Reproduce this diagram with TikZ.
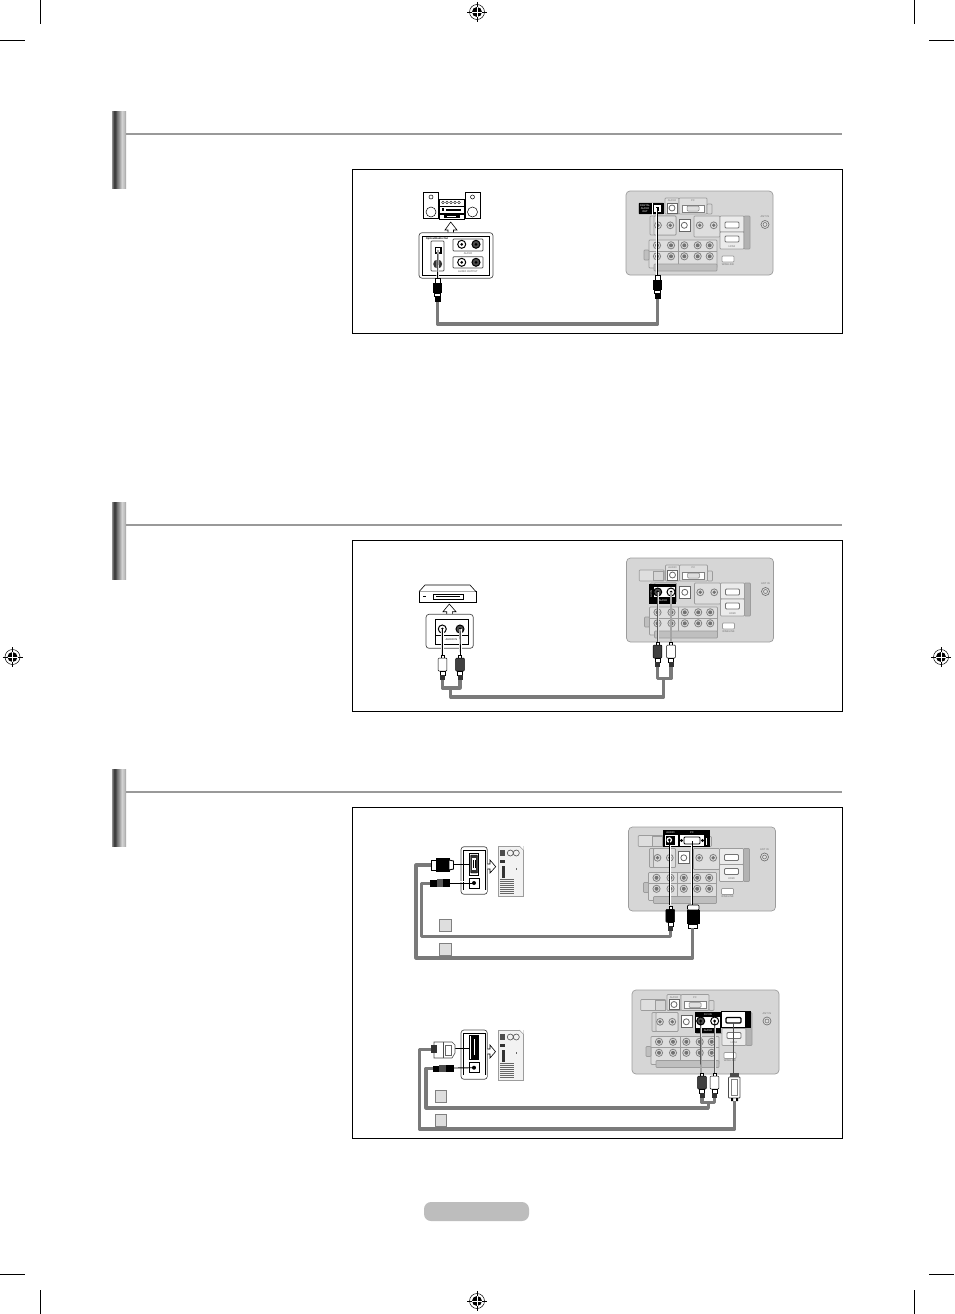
\documentclass[tikz,border=0pt]{standalone}
\usepackage{fontspec}
\setmainfont{Liberation Sans}
\definecolor{cablegray}{HTML}{7A7A7A}
\definecolor{panelgray}{HTML}{D6D6D6}
\definecolor{boxgray}{HTML}{DEDEDE}
\definecolor{linegray}{HTML}{9C9C9C}
\definecolor{rulegray}{HTML}{999999}
\definecolor{pillgray}{HTML}{BDBDBD}
\definecolor{barA}{HTML}{8C8C8C}
\definecolor{barB}{HTML}{404040}
\definecolor{barC}{HTML}{707070}
\definecolor{barF}{HTML}{A0A0A0}
\definecolor{barD}{HTML}{D4D4D4}
\definecolor{barG}{HTML}{C0C0C0}
\definecolor{barE}{HTML}{A0A0A0}
\pgfdeclarehorizontalshading{bargrad}{100bp}{color(0bp)=(barA);color(25bp)=(barA);color(32bp)=(barB);color(37bp)=(barB);color(43bp)=(barC);color(52bp)=(barF);color(60bp)=(barD);color(68bp)=(barG);color(75bp)=(barE);color(100bp)=(barE)}
\newcommand\tinyfont{\fontsize{2.6}{3}\selectfont}
\tikzset{
  every node/.style={outer sep=0pt},
  cable/.style={draw=cablegray,line width=3.2pt,line join=round},
  thinwire/.style={draw=black,line width=0.9pt},
  halo/.style={draw=white,line width=2.4pt},
  frame/.style={draw=black,line width=1pt,fill=white},
  rulel/.style={draw=rulegray,line width=2pt},
  crop/.style={draw=black,line width=0.8pt},
  port/.style={draw=linegray,fill=boxgray,line width=0.5pt},
  gbox/.style={draw=linegray,fill=boxgray,line width=0.7pt,rounded corners=0.8pt},
  glab/.style={inner sep=0pt,text=black!55,font=\tinyfont},
  wlab/.style={inner sep=0pt,text=white,font=\tinyfont},
  blab/.style={inner sep=0pt,text=black,font=\tinyfont},
  plate/.style={draw=black!70,fill=white,line width=0.7pt,rounded corners=3pt},
  outline/.style={draw=black,fill=white,line width=0.6pt},
  sq/.style={draw=gray,fill=boxgray,line width=0.6pt},
}
% registration mark
\newcommand\regmark[3]{%
  \begin{scope}[shift={(#1,#2)}]
    \node[name=#3,circle,draw=black,line width=0.5pt,minimum size=15pt,inner sep=0pt] at (0,0) {};
    \draw[crop,line width=0.6pt] (-10,0)--(10,0) (0,-10)--(0,10);
    \fill[black] (0,0) circle (5);
    \draw[white,line width=0.6pt] (-5,0)--(5,0) (0,-5)--(0,5);
  \end{scope}}
% section marker
\newcommand\sectionbar[1]{%
  \shade[shading=bargrad] (112,#1) rectangle (126,#1+77);
  \draw[rulel] (126,#1+22.5) -- (842,#1+22.5);}
% TV panel: x y, content dx dy
\newcommand\tvpanel[5]{%
  \node[name=#5,draw=linegray,fill=panelgray,rounded corners=4pt,line width=0.7pt,inner sep=0pt,minimum width=147pt,minimum height=84pt,anchor=north west] at (#1,#2) {};
  \begin{scope}[shift={(#1+#3,#2+#4)}]
    \draw[gbox] (12.7,12) rectangle (37.7,23);
    \draw[port,fill=panelgray] (27,13) rectangle (37,22.5);
    \draw[gbox] (39,7) rectangle (53,23);
    \draw[gbox] (53,7) rectangle (81,23);
    \draw[gbox,fill=panelgray] (81,13) rectangle (86,23);
    \node[glab] at (46,10) {AUDIO};
    \node[glab] at (67,10) {PC};
    \draw[port,fill=white,draw=black!60] (41,12) rectangle (51,22);
    \draw[black!60,line width=0.8pt] (46,17) circle (3);
    \draw[port,fill=white,draw=black!50] (56,14) rectangle (78,21);
    \draw[port,draw=black!50,rounded corners=1pt] (61,15) rectangle (73,20);
    \draw[gbox,fill=panelgray] (24,25) rectangle (50,44);
    \draw[gbox] (28,25) rectangle (50,44);
    \draw[port,fill=white,draw=black!60] (53,28) rectangle (64,40);
    \draw[black!60,line width=0.8pt] (58.3,34.3) circle (3);
    \draw[gbox] (68,25) rectangle (94,46);
    \draw[gbox,fill=boxgray!60!white] (94,25) rectangle (118,41);
    \draw[gbox,fill=boxgray!60!white] (94,41) rectangle (118,58);
    \draw[gbox,fill=gray!60] (118,25) rectangle (124,58);
    \draw[black!55,fill=white,line width=0.9pt,rounded corners=1pt] (99,31) rectangle (113,37);
    \draw[black!55,fill=white,line width=0.9pt,rounded corners=1pt] (99,45) rectangle (113,51);
    \node[glab] at (106,55.5) {HDMI};
    \draw[black!55,fill=boxgray,line width=0.7pt] (139,33.5) circle (4);
    \draw[black!55,line width=0.6pt] (139,33.5) circle (2);
    \node[glab] at (139,26) {ANT IN};
    \draw[gbox] (23,49) rectangle (91,77);
    \draw[linegray,line width=0.5pt] (52,49)--(52,73) (23,60)--(91,60);
    \draw[gbox,fill=gray!50] (18,59) rectangle (23,69);
    \draw[gbox,fill=gray!50] (28,73) rectangle (91,80);
    \draw[gbox,fill=white] (96,65) rectangle (108,71);
    \node[glab] at (102,73.5) {WISELINK};
    \foreach \cx in {32,44.3,73.7,87.7}{
      \draw[black!50,fill=boxgray,line width=0.8pt] (\cx,34.3) circle (3.4);
      \fill[black!55] (\cx,34.3) circle (1.9);}
    \foreach \cy in {54.3,65.3}{
      \foreach \cx in {31,45,58.3,71.7,83.7}{
        \draw[black!50,fill=boxgray,line width=0.8pt] (\cx,\cy) circle (3.6);
        \fill[black!55] (\cx,\cy) circle (2);}}
  \end{scope}}
% jack: black ring
\newcommand\jack[3]{\node[name=#3,circle,draw=black,fill=white,line width=1pt,minimum size=8pt,inner sep=0pt] at (#1,#2) {}; \fill[black] (#1,#2) circle (1.5);}
\newcommand\darkjack[3]{\node[name=#3,circle,draw=black,fill=black!70,line width=1pt,minimum size=8pt,inner sep=0pt] at (#1,#2) {}; \fill[black] (#1,#2) circle (1.5);}
% optical plug (vertical): centre x, top y, cable coordinate name
\newcommand\optplug[3]{%
  \draw[outline] (#1-2.5,#2) rectangle (#1+2.5,#2+5);
  \fill[black] (#1-4.5,#2+5) rectangle (#1+4.5,#2+15);
  \draw[outline,draw=black] (#1-3,#2+15) rectangle (#1+3,#2+18);
  \fill[black] (#1-3,#2+18) rectangle (#1+3,#2+24);
  \coordinate (#3) at (#1,#2+24);}
% RCA plug (vertical): centre x, top y, body colour, name
\newcommand\rcaplug[4]{%
  \draw[outline] (#1-1.5,#2-3) rectangle (#1+1.5,#2);
  \draw[draw=black,fill=#3,line width=0.5pt,rounded corners=1pt] (#1-4.4,#2) rectangle (#1+4.4,#2+13);
  \draw[draw=black,fill=white,line width=0.5pt] (#1-2.5,#2+13) rectangle (#1+2.5,#2+17);
  \fill[black!80] (#1-2.5,#2+17) rectangle (#1+2.5,#2+22);
  \coordinate (#4) at (#1,#2+22);}
% tower PC
\newcommand\tower[3]{%
  \begin{scope}[shift={(#1,#2)}]
    \node[name=#3,draw=linegray,fill=black!5,line width=0.5pt,inner sep=0pt,minimum width=25pt,minimum height=50pt,anchor=north west] at (0,0) {};
    \fill[white] (25.3,-0.3)--(21,-0.3)--(25.3,4)--cycle;
    \draw[linegray,line width=0.5pt] (21,0)--(25,4);
    \fill[black!70] (1.5,4) rectangle (7,10);
    \draw[black!70,line width=0.6pt] (12,7) circle (3) (18,7) circle (3);
    \fill[black!80] (2,14) rectangle (7,17);
    \fill[black!80] (4,20) rectangle (7,32);
    \draw[black!60,line width=0.4pt] (18,22)--(18,24);
    \foreach \vy in {33.5,35.5,...,47.5}{\draw[black!60,line width=0.7pt] (1.5,\vy)--(16,\vy);}
  \end{scope}}
% rear plate with PC port
\newcommand\pcplate[6]{%
  \node[name=#6,plate,minimum width=26.3pt,minimum height=#3 pt,inner sep=0pt,anchor=north west] at (461,#1) {};
  \draw[black,line width=0.8pt] (463.3,#1+3.5) rectangle (485,#1+#3-4);
  \fill[white] (461.5,#1+#3-4.2) rectangle (486.8,#1+#3-2);
  \draw[black,line width=0.8pt,fill=white] (469.5,#1+#4) rectangle (478.7,#1+#5);
}
\begin{document}
\begin{tikzpicture}[x=1pt,y=-1pt]
\useasboundingbox (0,0) rectangle (954,1314);
\fill[white] (0,0) rectangle (954,1314);
% crop marks
\draw[crop] (40.5,0)--(40.5,24) (0,40.5)--(25,40.5);
\draw[crop] (914.5,0)--(914.5,24) (929,40.5)--(954,40.5);
\draw[crop] (40.5,1290)--(40.5,1314) (0,1274.5)--(25,1274.5);
\draw[crop] (914.5,1290)--(914.5,1314) (929,1274.5)--(954,1274.5);
\regmark{477}{12}{regtop}
\regmark{477}{1301}{regbottom}
\regmark{12.5}{657}{regleft}
\regmark{941}{657}{regright}
\sectionbar{111}
\sectionbar{502}
\sectionbar{769}
\node[name=pill,fill=pillgray,rounded corners=7pt,minimum width=105pt,minimum height=19pt,inner sep=0pt,anchor=north west] at (424,1202) {};
% frames
\node[name=frameA,frame,minimum width=490pt,minimum height=163.5pt,inner sep=0pt,anchor=north west] at (352.5,169.5) {};
\node[name=frameB,frame,minimum width=490pt,minimum height=171pt,inner sep=0pt,anchor=north west] at (352.5,540.5) {};
\node[name=frameC,frame,minimum width=490pt,minimum height=331pt,inner sep=0pt,anchor=north west] at (352.5,807.5) {};

%%%% PANEL A
\begin{scope}
  \node[name=spkL,outline,minimum width=15pt,minimum height=26pt,inner sep=0pt,anchor=north west] at (423,192) {};
  \node[name=spkR,outline,minimum width=15pt,minimum height=26pt,inner sep=0pt,anchor=north west] at (465,192) {};
  \draw[line width=0.5pt] (431,197) circle (2) (431,212) circle (5) (472.5,197) circle (2) (472.5,212) circle (5);
  \draw[outline] (439,199) rectangle (464,206);
  \foreach \dx in {443,447,451,455,459}{\draw[line width=0.4pt] (\dx,202.5) circle (1.3);}
  \draw[outline] (439,206.5) rectangle (464,213);
  \fill[black] (446,209) rectangle (461,211);
  \draw[line width=0.4pt] (442,208) rectangle (443.5,210);
  \draw[outline] (439,214) rectangle (464,219);
  \fill[black] (444,215) rectangle (460,218);
  \fill[white] (447,215.8) rectangle (456,217.2);
  \draw[outline,line join=miter] (448,233)--(448,230)--(445,230)--(450.7,222)--(457,230)--(453.5,230)--(453.5,233);
  \node[name=plateA,plate,minimum width=74pt,minimum height=45.5pt,inner sep=0pt,anchor=north west] at (419,232.7) {};
  \draw[black,line width=0.8pt] (422.7,236.7) rectangle (489.3,275);
  \node[blab,font=\tinyfont\bfseries] at (437,239) {Optical/Audio Out};
  \draw[gbox,draw=black!70,fill=white] (431,241) rectangle (444,271);
  \draw[gbox,draw=black!70,fill=white] (453,239) rectangle (483,251);
  \draw[gbox,draw=black!70,fill=white] (453,256.7) rectangle (483,268);
  \fill[black] (434.5,246.5) rectangle (441.5,253.5);
  \fill[white] (436.2,248.2) rectangle (439.8,251.8);
  \fill[black!80] (437.7,264) circle (4.5);
  \jack{461.7}{244.3}{aj1} \darkjack{476}{244.3}{aj2}
  \jack{461.7}{262.3}{aj3} \darkjack{476}{262.3}{aj4}
  \node[blab,text=black!70] at (468,253.2) {AUDIO};
  \node[blab,text=black!70] at (468,271.5) {AUDIO OUTPUT};
\end{scope}
\tvpanel{626}{191}{0}{0}{tvA}
\fill[black] (638.7,203) rectangle (651.5,214);
\fill[black] (651.5,203) rectangle (663.7,214);
\node[wlab] at (645,206) {DIGITAL};
\node[wlab] at (645,208.8) {AUDIO};
\node[wlab] at (645,211.5) {OUT};
\draw[white,fill=white,line width=0.4pt] (651.8,203) rectangle (652.6,214);
\fill[white] (654,205) rectangle (660.5,212);
\fill[black] (655.5,206.5) rectangle (659,210.5);
% optical cable
\coordinate (wA1) at (438,250); \coordinate (wA2) at (657,208);
\draw[halo] (438,250)--(437.6,279);
\draw[thinwire] (wA1)--(437.6,279);
\draw[halo] (657,208)--(657,275);
\draw[thinwire] (wA2)--(657,275);
\optplug{437.5}{278}{cA1}
\optplug{657.5}{275}{cA2}
\coordinate (cAb1) at (437.5,324); \coordinate (cAb2) at (657.5,324);
\draw[cable] (cA1)--(cAb1)--(cAb2)--(cA2);

%%%% PANEL B
\node[name=vcr,outline,minimum width=57pt,minimum height=10.6pt,inner sep=0pt,anchor=north west] at (419,591.7) {};
\draw[outline] (419,591.7)--(425,585)--(470,585)--(476,591.7);
\draw[outline] (433,594) rectangle (463,599.3);
\draw[line width=1pt] (436,596.8)--(460,596.8);
\draw[line width=0.5pt] (423,596)--(426,596);
\draw[outline,line join=miter] (446.7,614)--(446.7,611.7)--(443,611.7)--(449.3,604)--(456,611.7)--(452.3,611.7)--(452.3,614);
\node[name=plateB,plate,minimum width=47.3pt,minimum height=34pt,inner sep=0pt,anchor=north west] at (426,614.3) {};
\draw[black,line width=0.8pt] (435,619) rectangle (468,644.5);
\draw[black,line width=0.8pt] (435,635.5)--(468,635.5);
\node[blab] at (451.5,640) {AUDIO IN};
\jack{442.3}{629}{bj1} \darkjack{460}{629}{bj2}
\tvpanel{626.5}{558}{0}{0}{tvB}
\fill[black] (649,584) rectangle (676,604);
\fill[white] (654,586.5) rectangle (675,597);
\node[wlab,rotate=90] at (651.3,594) {AV IN};
\node[wlab] at (663,600.3) {AUDIO};
\darkjack{657.7}{592}{bj3} \jack{671}{592}{bj4}
\draw[halo] (442.3,629)--(442.3,655) (460.5,629)--(460.5,655) (657.7,592)--(657.7,642) (671,592)--(671,642);
\draw[thinwire] (bj1.center)--(442.3,655) (bj2.center)--(460.5,655) (bj3.center)--(657.7,642) (bj4.center)--(671,642);
\rcaplug{442.5}{658}{white}{cB1}
\rcaplug{460}{658}{black!75}{cB2}
\rcaplug{657.5}{645}{black!75}{cB3}
\rcaplug{671}{645}{white}{cB4}
\coordinate (jB1) at (450.7,688);
\coordinate (jB2) at (663.7,678.5);
\coordinate (mB1) at (450.7,697);
\coordinate (mB2) at (663.7,697);
\draw[cable] (cB1)--(442.5,688)--(460,688)--(cB2);
\draw[cable] (jB1)--(mB1)--(mB2)--(jB2);
\draw[cable] (cB3)--(657.5,678.5)--(671,678.5)--(cB4);

%%%% PANEL C top
\pcplate{846.7}{0}{47.6}{6.3}{28.3}{plateC}
\draw[black,fill=black!80,rounded corners=1pt] (470.5,855) rectangle (477.7,873);
\fill[white] (472,858) rectangle (476,870);
\draw[black,line width=0.5pt] (473,860)--(473,868) (475,860)--(475,868);
\node[name=jC,draw=black,fill=white,line width=0.7pt,minimum size=10pt,inner sep=0pt] at (474,883) {};
\fill[black] (474,883) circle (2);
\draw[outline,line join=miter] (487.3,864)--(490,864)--(490,860)--(495.7,866.7)--(490,873)--(490,869)--(487.3,869);
\tower{498.3}{846}{pcC}
% vga plug
\coordinate (vC) at (468.5,864.3);
\draw[thinwire] (453,864.3)--(vC);
\draw[thinwire] (450,883)--(jC.center);
\draw[white,line width=0.6pt] (459,881.5)--(466,881.5);
\draw[outline] (431,860) rectangle (436.5,870);
\fill[black] (436,858.3) rectangle (450,871.7);
\draw[outline,line width=0.9pt] (449,860)--(453.5,861)--(453.5,869)--(449,870)--cycle;
\fill[black] (430,880) rectangle (437,887);
\fill[black!65] (437,879.3) rectangle (443,887.3);
\fill[black] (443,879.3) rectangle (450,887.3);
\coordinate (cC1) at (431,865);
\coordinate (cC2) at (430,883.5);
\node[name=sqC1,sq,minimum size=12.4pt,inner sep=0pt,anchor=north west] at (439.3,919.3) {};
\node[name=sqC2,sq,minimum size=12.4pt,inner sep=0pt,anchor=north west] at (439.3,943.3) {};
\tvpanel{628.5}{827}{-3}{-3.5}{tvC}
% highlight
\fill[black] (663,829.5) rectangle (710,846.5);
\fill[white] (664.5,835) rectangle (678,846);
\fill[white] (680,835) rectangle (704,846);
\node[wlab] at (670.5,832.3) {AUDIO};
\node[wlab] at (692,832.3) {PC};
\fill[black] (665.5,836) rectangle (674.5,845);
\fill[white] (669.3,840) circle (2.8);
\fill[black] (669.3,840) circle (1.5);
\draw[black,line width=0.8pt,fill=white,rounded corners=1pt] (684,837) rectangle (700,844);
\fill[black] (681.5,840.5) circle (1.7) (702.5,840.5) circle (1.7);
\draw[white,line width=0.5pt] (706,838)--(706,845);
\draw[halo] (669.8,845)--(669.8,905) (692,845)--(692,905);
\draw[thinwire] (669.8,840)--(669.8,905) (692,841)--(692,905);
\rcaplug{670.3}{909.3}{black}{cC3}
\draw[black,fill=white,line width=0.7pt,rounded corners=1pt] (687.5,905) rectangle (699,910);
\fill[black] (686.7,909.5) rectangle (700,924);
\draw[black,fill=white,line width=0.7pt] (688.5,924) rectangle (697.5,928.3);
\coordinate (cC4) at (692.7,928.3);
\coordinate (bC1) at (421.7,936.7); \coordinate (eC1) at (670.3,936.7);
\coordinate (bC2) at (416,958); \coordinate (eC2) at (692.7,958);
\draw[cable] (cC2)--(421.7,883.5)--(bC1)--(eC1)--(cC3);
\draw[cable] (cC1)--(416,865)--(bC2)--(eC2)--(cC4);

%%%% PANEL C bottom
\pcplate{1030}{0}{49.3}{5}{29.3}{plateD}
\fill[black] (470.5,1035.5) rectangle (478,1059);
\draw[white,line width=1pt] (474.2,1039)--(474.2,1055);
\node[name=jD,draw=black,fill=white,line width=0.7pt,minimum size=10pt,inner sep=0pt] at (474,1067.7) {};
\fill[black] (474,1067.7) circle (2);
\draw[outline,line join=miter] (487.3,1049)--(490,1049)--(490,1045)--(495.5,1051.7)--(490,1058)--(490,1054)--(487.3,1054);
\tower{498.3}{1030}{pcD}
\coordinate (vD) at (469,1048);
\draw[thinwire] (455,1048)--(vD);
\draw[thinwire] (454,1068)--(jD.center);
\draw[outline,draw=black!70,line width=0.6pt] (434,1042)--(452,1042)--(455,1045)--(455,1053)--(452,1058)--(434,1058)--cycle;
\draw[black!70,line width=0.5pt] (443,1042)--(443,1058);
\fill[black!80] (431,1045)--(437,1045)--(437,1053)--(431,1053)--cycle;
\draw[black!60,line width=0.5pt] (445,1045) rectangle (451,1055);
\fill[black] (433,1065.5) rectangle (439,1071.5);
\fill[black!70] (439,1065) rectangle (446,1072.3);
\fill[black] (446,1065) rectangle (454,1072.3);
\coordinate (cD1) at (431,1049.3);
\coordinate (cD2) at (433,1068.5);
\node[name=sqD1,sq,minimum size=11.7pt,inner sep=0pt,anchor=north west] at (435,1090.7) {};
\node[name=sqD2,sq,minimum size=11.7pt,inner sep=0pt,anchor=north west] at (435,1114.3) {};
\tvpanel{632}{990}{-4}{-2.5}{tvD}
% highlights
\fill[black] (695,1011.7) rectangle (721.3,1033.3);
\fill[white] (696.3,1017) rectangle (720,1028);
\node[wlab] at (708,1014.5) {DVI IN};
\node[wlab] at (708,1030.5) {AUDIO};
\darkjack{700.7}{1021}{dj1} \jack{714.7}{1021}{dj2}
\draw[black,line width=1pt,fill=white] (721,1011.5) rectangle (750,1027.7);
\fill[black] (745,1011.5) rectangle (750,1027.7);
\draw[black,line width=1.1pt,fill=white,rounded corners=1pt] (726,1017.5) rectangle (741,1023);
\draw[halo] (701,1026)--(701,1075) (714.7,1026)--(714.7,1075);
\draw[thinwire] (dj1.center)--(701,1075) (dj2.center)--(714.7,1075);
\draw[draw=black!70,line width=1.5pt] (733.5,1023)--(733.5,1073);
\rcaplug{702}{1076}{black!75}{cD3}
\rcaplug{714.5}{1076}{white}{cD4}
% hdmi plug
\fill[black!70] (729.5,1073) rectangle (739,1077);
\draw[draw=black!70,fill=white,line width=0.8pt,rounded corners=0.8pt] (728.5,1077) rectangle (740,1098);
\draw[draw=black!50,line width=0.5pt] (731,1079) rectangle (737.5,1095);
\fill[black] (731,1098) rectangle (733,1101) (736,1098) rectangle (738,1101);
\coordinate (cD5) at (734.5,1101);
\coordinate (bD1) at (426,1108); \coordinate (eD1) at (708.3,1108);
\coordinate (bD2) at (419.3,1129); \coordinate (eD2) at (734.5,1129);
\draw[cable] (cD3)--(702,1102.5)--(714.5,1102.5)--(cD4);
\draw[cable] (cD2)--(426,1068.5)--(bD1)--(eD1)--(708.3,1102.5);
\draw[cable] (cD1)--(419.3,1049.3)--(bD2)--(eD2)--(cD5);
\end{tikzpicture}
\end{document}
